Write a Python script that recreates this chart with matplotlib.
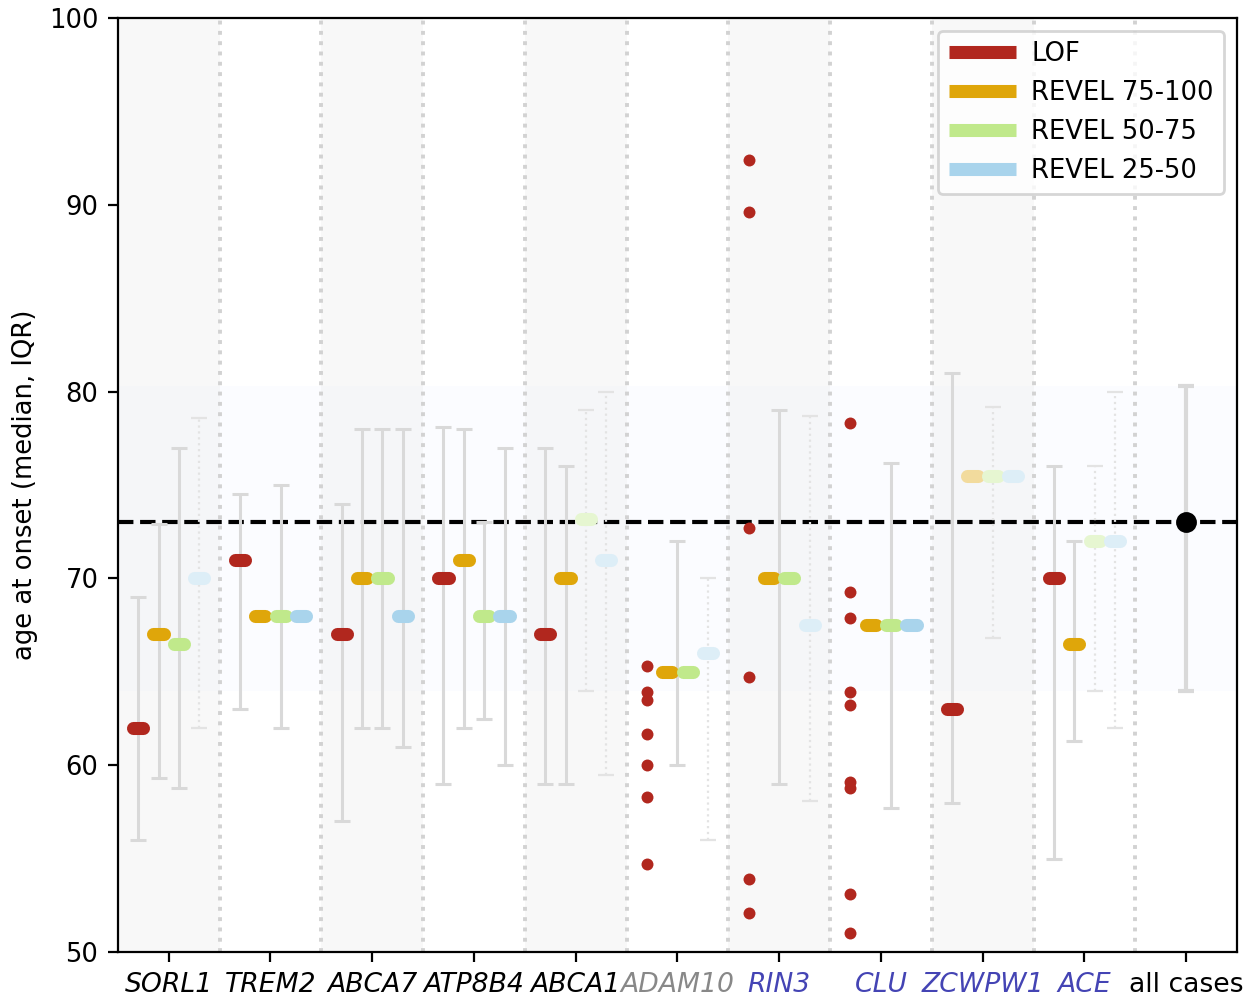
import numpy as np
import matplotlib
matplotlib.use('Agg')
import matplotlib.pyplot as plt
from matplotlib.colors import to_rgb
from matplotlib.lines import Line2D

plt.rcParams['font.size'] = 9.3

genes = ['SORL1', 'TREM2', 'ABCA7', 'ATP8B4', 'ABCA1', 'ADAM10', 'RIN3', 'CLU', 'ZCWPW1', 'ACE']
gene_colors = ['black'] * 5 + ['#888888'] + ['#4444b4'] * 4
categories = ['LOF', 'REVEL 75-100', 'REVEL 50-75', 'REVEL 25-50']
cat_colors = ['#b1271e', '#dfa60a', '#c0e98b', '#a9d4ec']
nan = np.nan

# median age at onset per gene x category (nan = shown as single points)
medians = np.array([
    [62, 67, 66.5, 70],
    [71, 68, 68, 68],
    [67, 70, 70, 68],
    [70, 71, 68, 68],
    [67, 70, 73.2, 71],
    [nan, 65, 65, 66],
    [nan, 70, 70, 67.5],
    [nan, 67.5, 67.5, 67.5],
    [63, 75.5, 75.5, 75.5],
    [70, 66.5, 72, 72],
])
# not significant -> faded
faded = np.array([
    [0, 0, 0, 1],
    [0, 0, 0, 0],
    [0, 0, 0, 0],
    [0, 0, 0, 0],
    [0, 0, 1, 1],
    [0, 0, 0, 1],
    [0, 0, 0, 1],
    [0, 0, 0, 0],
    [0, 1, 1, 1],
    [0, 0, 1, 1],
])

# IQR bars: gene, first category, last category, q1, q3
iqr = [
    (0, 0, 0, 56, 69), (0, 1, 1, 59.3, 72.9), (0, 2, 2, 58.8, 77), (0, 3, 3, 62, 78.6),
    (1, 0, 0, 63, 74.5), (1, 1, 3, 62, 75),
    (2, 0, 0, 57, 74), (2, 1, 1, 62, 78), (2, 2, 2, 62, 78), (2, 3, 3, 61, 78),
    (3, 0, 0, 59, 78.1), (3, 1, 1, 62, 78), (3, 2, 2, 62.5, 73), (3, 3, 3, 60, 77),
    (4, 0, 0, 59, 77), (4, 1, 1, 59, 76), (4, 2, 2, 64, 79), (4, 3, 3, 59.5, 80),
    (5, 1, 2, 60, 72), (5, 3, 3, 56, 70),
    (6, 1, 2, 59, 79), (6, 3, 3, 58.1, 78.7),
    (7, 1, 3, 57.7, 76.2),
    (8, 0, 0, 58, 81), (8, 1, 3, 66.8, 79.2),
    (9, 0, 0, 55, 76), (9, 1, 1, 61.3, 72), (9, 2, 2, 64, 76), (9, 3, 3, 62, 80),
]

# individual LOF carriers where too few for a median
lof_points = {
    'ADAM10': [65.3, 63.9, 63.5, 61.7, 60.0, 58.3, 54.7],
    'RIN3': [92.4, 89.6, 72.7, 64.7, 53.9, 52.1],
    'CLU': [78.3, 69.3, 67.9, 63.9, 63.2, 59.1, 58.8, 53.1, 51.0],
}

all_median = 73.0
all_q1, all_q3 = 64.0, 80.3

offsets = np.array([-0.3, -0.1, 0.1, 0.3])


def fade(c, a=0.4):
    r = np.array(to_rgb(c))
    return tuple(a * r + (1 - a))


fig = plt.figure(figsize=(6.27, 4.99), dpi=200)
ax = fig.add_axes([0.094, 0.046, 0.8925, 0.936])

n = len(genes)
for i in range(0, n, 2):
    ax.axvspan(i - 0.5, i + 0.5, color='#f8f8f8', lw=0, zorder=0)
ax.axhspan(all_q1, all_q3, color='#e6eaff', alpha=0.12, lw=0, zorder=0.5)
for i in range(n):
    ax.axvline(i + 0.5, color='#d2d2d2', lw=1.4, ls=':', zorder=1)
ax.axhline(all_median, color='black', lw=1.5, ls='--', zorder=2)

for g, c0, c1, q1, q3 in iqr:
    x = offsets[c0:c1 + 1].mean() + g
    m = np.nanmean(medians[g, c0:c1 + 1])
    if faded[g, c0]:
        eb = ax.errorbar(x, m, yerr=[[m - q1], [q3 - m]], fmt='none', ecolor='#e3e3e3',
                         elinewidth=0.8, capsize=2.9, capthick=0.8, zorder=3)
        eb[2][0].set_linestyle(':')
    else:
        ax.errorbar(x, m, yerr=[[m - q1], [q3 - m]], fmt='none', ecolor='#d9d9d9',
                    elinewidth=1.1, capsize=2.9, capthick=1.1, zorder=3)

for g in range(n):
    for k in range(len(categories)):
        m = medians[g, k]
        if np.isnan(m):
            continue
        x = g + offsets[k]
        col = fade(cat_colors[k]) if faded[g, k] else cat_colors[k]
        ax.plot([x - 0.05, x + 0.05], [m, m], color=col, lw=4.7,
                solid_capstyle='round', zorder=4)

for name, vals in lof_points.items():
    g = genes.index(name)
    ax.plot([g + offsets[0]] * len(vals), vals, 'o', color=cat_colors[0],
            ms=4.3, mew=0, zorder=4)

ax.errorbar(n, all_median, yerr=[[all_median - all_q1], [all_q3 - all_median]],
            fmt='none', ecolor='#d9d9d9', elinewidth=1.5, capsize=2.9, capthick=1.5, zorder=3)
ax.plot(n, all_median, 'o', color='black', ms=6.5, zorder=5)

ax.set_xlim(-0.5, n + 0.5)
ax.set_ylim(50, 100)
ax.set_xticks(range(n + 1))
ax.set_xticklabels(genes + ['all cases'], fontsize=9.6)
for lbl, col in zip(ax.get_xticklabels(), gene_colors + ['black']):
    lbl.set_color(col)
    if lbl.get_text() != 'all cases':
        lbl.set_fontstyle('italic')
ax.set_ylabel('age at onset (median, IQR)')

handles = [Line2D([], [], color=c, lw=4.7, solid_capstyle='butt') for c in cat_colors]
ax.legend(handles, categories, loc='upper right', handlelength=2.6, handletextpad=0.6)

fig.savefig('out.png', dpi=200)
